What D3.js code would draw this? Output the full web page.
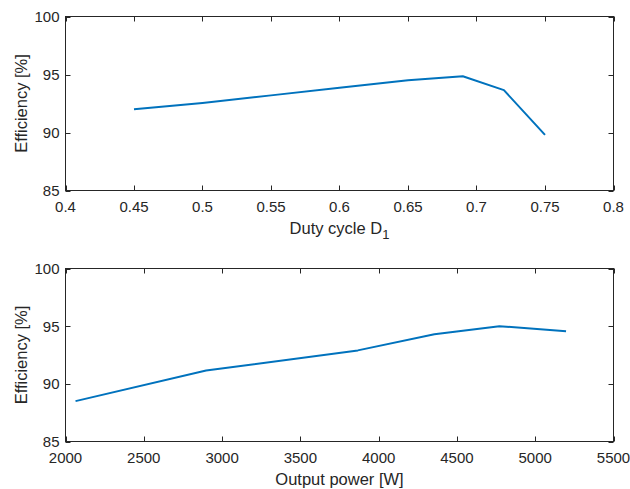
<!DOCTYPE html>
<html>
<head>
<meta charset="utf-8">
<script src="https://cdn.jsdelivr.net/npm/d3@7"></script>
<style>
  html, body { margin: 0; padding: 0; background: #fff; }
  svg { display: block; font-family: "Liberation Sans", Arial, Helvetica, sans-serif; }
</style>
</head>
<body>
<svg id="fig" width="630" height="489"></svg>
<script>
// Efficiency vs. duty cycle D1
const dutyCycle = [0.45, 0.50, 0.55, 0.60, 0.65, 0.69, 0.72, 0.75];
const effDuty   = [92.0, 92.55, 93.2, 93.85, 94.5, 94.85, 93.65, 89.8];
const dutyTicks = [0.4, 0.45, 0.5, 0.55, 0.6, 0.65, 0.7, 0.75, 0.8];

// Efficiency vs. output power
const outputPower = [2064, 2898, 3867, 4356, 4771, 5197];
const effPower    = [88.5, 91.15, 92.9, 94.3, 95.0, 94.56];
const powerTicks  = [2000, 2500, 3000, 3500, 4000, 4500, 5000, 5500];

const effTicks = [85, 90, 95, 100];

const ink = "#262626";
const lineColor = "#0072BD";
const svg = d3.select("#fig");

function panel(opts) {
  const { top, bottom, left, right, xDomain, xTicks, xs, ys, xFormat, xLabel, xSub } = opts;
  const x = d3.scaleLinear().domain(xDomain).range([left, right]);
  const y = d3.scaleLinear().domain([85, 100]).range([bottom, top]);
  const g = svg.append("g");
  const tickLen = 5;

  // frame
  g.append("rect")
    .attr("x", left).attr("y", top)
    .attr("width", right - left).attr("height", bottom - top)
    .attr("fill", "none").attr("stroke", ink).attr("stroke-width", 1);

  // x ticks (bottom & top, pointing inward)
  xTicks.forEach(t => {
    const px = Math.round(x(t)) + 0.5;
    g.append("line").attr("x1", px).attr("x2", px).attr("y1", bottom).attr("y2", bottom - tickLen)
      .attr("stroke", ink);
    g.append("line").attr("x1", px).attr("x2", px).attr("y1", top).attr("y2", top + tickLen)
      .attr("stroke", ink);
    g.append("text").attr("x", x(t)).attr("y", bottom + 21.5)
      .attr("text-anchor", "middle").attr("fill", ink).attr("font-size", 15)
      .text(xFormat(t));
  });

  // y ticks (left & right)
  effTicks.forEach(t => {
    const py = Math.round(y(t)) + 0.5;
    g.append("line").attr("x1", left).attr("x2", left + tickLen).attr("y1", py).attr("y2", py)
      .attr("stroke", ink);
    g.append("line").attr("x1", right).attr("x2", right - tickLen).attr("y1", py).attr("y2", py)
      .attr("stroke", ink);
    g.append("text").attr("x", left - 6).attr("y", y(t) + 5.5)
      .attr("text-anchor", "end").attr("fill", ink).attr("font-size", 15)
      .text(t);
  });

  // data line
  const pts = xs.map((v, i) => [v, ys[i]]);
  g.append("path").datum(pts)
    .attr("d", d3.line().x(d => x(d[0])).y(d => y(d[1])))
    .attr("fill", "none").attr("stroke", lineColor).attr("stroke-width", 2)
    .attr("stroke-linejoin", "round");

  // axis labels
  const xl = g.append("text").attr("x", (left + right) / 2).attr("y", bottom + 43)
    .attr("text-anchor", "middle").attr("fill", ink).attr("font-size", 16.5);
  xl.append("tspan").text(xLabel);
  if (xSub) xl.append("tspan").attr("dy", 5).attr("font-size", 13).text(xSub);

  g.append("text")
    .attr("transform", `translate(${27},${(top + bottom) / 2}) rotate(-90)`)
    .attr("text-anchor", "middle").attr("fill", ink).attr("font-size", 16.5)
    .text("Efficiency [%]");
}

panel({
  top: 16.5, bottom: 190.5, left: 65.5, right: 613.5,
  xDomain: [0.4, 0.8], xTicks: dutyTicks, xs: dutyCycle, ys: effDuty,
  xFormat: d => String(+d.toFixed(2)), xLabel: "Duty cycle D", xSub: "1"
});

panel({
  top: 268.5, bottom: 441.5, left: 65.5, right: 613.5,
  xDomain: [2000, 5500], xTicks: powerTicks, xs: outputPower, ys: effPower,
  xFormat: d => String(d), xLabel: "Output power [W]"
});
</script>
</body>
</html>
